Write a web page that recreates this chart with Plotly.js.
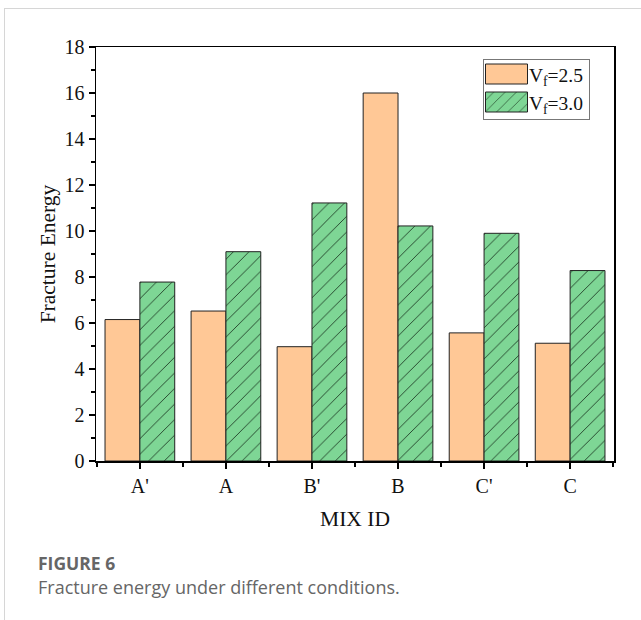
<!DOCTYPE html>
<html>
<head>
<meta charset="utf-8">
<script src="https://cdn.plot.ly/plotly-3.0.1.min.js"></script>
<style>
  html, body { margin: 0; padding: 0; background: #fff; }
  #wrap { position: relative; width: 641px; height: 620px; overflow: hidden; }
  #frame { position: absolute; left: 4px; top: 8px; width: 700px; height: 700px;
           border-top: 1px solid #d6d6d6; border-left: 1px solid #d6d6d6; }
  #chart { position: absolute; left: 0; top: 0; width: 641px; height: 620px; }
</style>
</head>
<body>
<div id="wrap">
  <div id="frame"></div>
  <div id="chart"></div>
</div>
<script>
const categories = ["A'", "A", "B'", "B", "C'", "C"];
const seriesNames = ["V<sub>f</sub>=2.5", "V<sub>f</sub>=3.0"];
const vf25 = [6.15, 6.52, 4.97, 16.0, 5.57, 5.12];
const vf30 = [7.78, 9.1, 11.22, 10.22, 9.9, 8.28];
const yTicks = [0, 2, 4, 6, 8, 10, 12, 14, 16, 18];

const xIdx = categories.map((_, i) => i);
const serif = "Liberation Serif, Times New Roman, serif";
const sans = "Open Sans, Noto Sans, sans-serif";

const traces = [
  {
    type: 'bar', name: seriesNames[0], x: xIdx, y: vf25,
    marker: { color: '#FFC896', line: { color: '#222', width: 1 } }
  },
  {
    type: 'bar', name: seriesNames[1], x: xIdx, y: vf30,
    marker: { color: '#7ED695', line: { color: '#222', width: 1 },
      pattern: { shape: '/', fgcolor: '#1e3a24', bgcolor: '#7ED695', size: 11, solidity: 0.08 } }
  }
];

const layout = {
  width: 641, height: 620,
  margin: { l: 96, r: 27, t: 47, b: 159 },
  paper_bgcolor: 'rgba(0,0,0,0)', plot_bgcolor: '#fff',
  barmode: 'group', bargap: 0.19, bargroupgap: 0,
  showlegend: true,
  legend: {
    x: 0.747, y: 0.973, xanchor: 'left', yanchor: 'top',
    bgcolor: '#fff', bordercolor: '#777', borderwidth: 1,
    font: { family: serif, size: 19.5, color: '#111' },
    itemwidth: 35, tracegroupgap: 0
  },
  xaxis: {
    range: [-0.51, 5.51], tickmode: 'array', tickvals: xIdx, ticktext: categories,
    ticks: 'outside', ticklen: 6, tickwidth: 1.5, tickcolor: '#000',
    showline: true, linecolor: '#000', linewidth: 1.5, mirror: true,
    showgrid: false, zeroline: false,
    tickfont: { family: serif, size: 20, color: '#111' },
    minor: { tickmode: 'linear', tick0: 0.5, dtick: 1, ticks: 'outside', ticklen: 4, tickwidth: 1.5, tickcolor: '#000', showgrid: false },
    title: { text: 'MIX ID', font: { family: serif, size: 21.5, color: '#111' }, standoff: 15 }
  },
  yaxis: {
    range: [0, 18], tickmode: 'array', tickvals: yTicks,
    ticks: 'outside', ticklen: 6, tickwidth: 1.5, tickcolor: '#000',
    showline: true, linecolor: '#000', linewidth: 1.5, mirror: true,
    showgrid: false, zeroline: false,
    tickfont: { family: serif, size: 20, color: '#111' },
    minor: { tickmode: 'linear', tick0: 1, dtick: 2, ticks: 'outside', ticklen: 4, tickwidth: 1.5, tickcolor: '#000', showgrid: false },
    title: { text: 'Fracture Energy', font: { family: serif, size: 21.5, color: '#111' }, standoff: 3 }
  },
  annotations: [
    { xref: 'paper', yref: 'paper', x: -0.116, y: -0.247, xanchor: 'left', yanchor: 'middle',
      text: '<b>FIGURE 6</b>', showarrow: false,
      font: { family: sans, size: 17.5, color: '#666' } },
    { xref: 'paper', yref: 'paper', x: -0.116, y: -0.305, xanchor: 'left', yanchor: 'middle',
      text: 'Fracture energy under different conditions.', showarrow: false,
      font: { family: sans, size: 18, color: '#666' } }
  ]
};

// legend box geometry (page pixels)
const legendBox = { left: 483, right: 589, top: 59, bottom: 119 };
const legendItemCenters = [74, 102];

Plotly.newPlot('chart', traces, layout, { displayModeBar: false, staticPlot: true }).then(() => {
  const leg = document.querySelector('#chart .legend');
  if (!leg) return;
  const bg = leg.querySelector('.bg');
  const bgRect = bg.getBoundingClientRect();
  // resize the legend background/border
  const oy = parseFloat(bg.getAttribute('y') || 0);
  const ox = parseFloat(bg.getAttribute('x') || 0);
  bg.setAttribute('y', oy + (legendBox.top - bgRect.top));
  bg.setAttribute('x', ox + (legendBox.left - bgRect.left));
  bg.setAttribute('height', legendBox.bottom - legendBox.top);
  bg.setAttribute('width', legendBox.right - legendBox.left);
  const bgR2 = bg.getBoundingClientRect();
  leg.querySelectorAll('.traces').forEach((g, i) => {
    const p = g.querySelector('.legendpoints path');
    if (!p) return;
    p.setAttribute('d', 'M21,10H-21V-10H21Z');
    p.setAttribute('transform', '');
    const r = p.getBoundingClientRect();
    const dx = (bgR2.left + 2.5) - r.left;
    const dy = legendItemCenters[i] - (r.top + r.height / 2);
    p.setAttribute('transform', 'translate(' + dx + ',0)');
    const t = g.getAttribute('transform') || 'translate(0,0)';
    const m = t.match(/translate\(\s*([-\d.e]+)[ ,]+([-\d.e]+)\s*\)/);
    if (m) g.setAttribute('transform', 'translate(' + m[1] + ',' + (parseFloat(m[2]) + dy) + ')');
  });
  const clip = document.querySelectorAll('#chart clipPath rect');
});
</script>
</body>
</html>
